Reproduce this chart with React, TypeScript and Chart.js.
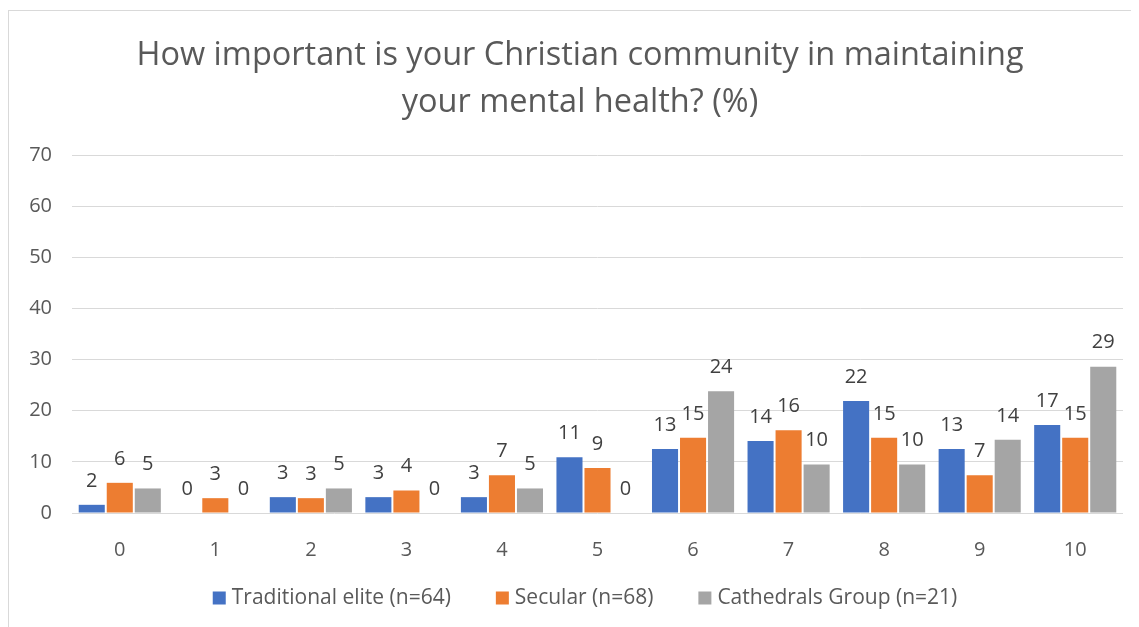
import React, { useEffect, useRef } from "react";
import { Chart, registerables } from "chart.js";

Chart.register(...registerables);

const categories = ["0", "1", "2", "3", "4", "5", "6", "7", "8", "9", "10"];
const traditionalElite = [1.6, 0, 3.1, 3.1, 3.1, 10.9, 12.5, 14.1, 21.9, 12.5, 17.2];
const secular = [5.9, 2.9, 2.9, 4.4, 7.4, 8.8, 14.7, 16.2, 14.7, 7.4, 14.7];
const cathedralsGroup = [4.8, 0, 4.8, 0, 4.8, 0, 23.8, 9.5, 9.5, 14.3, 28.6];
const seriesLabels = ["Traditional elite (n=64)", "Secular (n=68)", "Cathedrals Group (n=21)"];
const seriesColors = ["#4472C4", "#ED7D31", "#A5A5A5"];
const titleLines = ["How important is your Christian community in maintaining", "your mental health? (%)"];

const FONT = "'Open Sans', Lato, sans-serif";

const dataLabelPlugin = {
  id: "dataLabels",
  afterDatasetsDraw(chart: any) {
    const ctx = chart.ctx;
    ctx.save();
    ctx.font = `20px ${FONT}`;
    ctx.fillStyle = "#404040";
    ctx.textAlign = "center";
    ctx.textBaseline = "middle";
    chart.data.datasets.forEach((ds: any, di: number) => {
      const meta = chart.getDatasetMeta(di);
      meta.data.forEach((el: any, i: number) => {
        const v = ds.data[i];
        ctx.fillText(String(Math.round(v)), el.x, el.y - 24);
      });
    });
    ctx.restore();
  },
};

const titleAndLegendPlugin = {
  id: "titleAndLegend",
  afterDraw(chart: any) {
    const ctx = chart.ctx;
    ctx.save();
    // title
    ctx.font = `32.5px ${FONT}`;
    ctx.fillStyle = "#595959";
    ctx.textAlign = "center";
    ctx.textBaseline = "middle";
    const tx = 571;
    titleLines.forEach((line, i) => ctx.fillText(line, tx, 45 + i * 47));
    // legend
    ctx.font = `21px ${FONT}`;
    ctx.textAlign = "left";
    const box = 13;
    const gapText = 6;
    const gapItem = 45;
    const items = chart.data.datasets.map((ds: any) => ({
      label: ds.label,
      color: ds.backgroundColor,
      w: box + gapText + ctx.measureText(ds.label).width,
    }));
    const total = items.reduce((s: number, it: any) => s + it.w, 0) + gapItem * (items.length - 1);
    let x = 576 - total / 2;
    const y = 587;
    items.forEach((it: any) => {
      ctx.fillStyle = it.color;
      ctx.fillRect(x, y - box / 2, box, box);
      ctx.fillStyle = "#595959";
      ctx.fillText(it.label, x + box + gapText, y);
      x += it.w + gapItem;
    });
    ctx.restore();
  },
};

export default function App() {
  const ref = useRef<HTMLCanvasElement | null>(null);
  useEffect(() => {
    document.documentElement.style.overflow = "hidden";
    if (!ref.current) return;
    const chart = new Chart(ref.current, {
      type: "bar",
      data: {
        labels: categories,
        datasets: [
          { label: seriesLabels[0], data: traditionalElite, backgroundColor: seriesColors[0] },
          { label: seriesLabels[1], data: secular, backgroundColor: seriesColors[1] },
          { label: seriesLabels[2], data: cathedralsGroup, backgroundColor: seriesColors[2] },
        ],
      },
      options: {
        animation: false,
        responsive: false,
        maintainAspectRatio: false,
        layout: { padding: { top: 144, right: 8, bottom: 67, left: 0 } },
        datasets: { bar: { barPercentage: 0.93, categoryPercentage: 0.88 } },
        plugins: {
          legend: { display: false },
          tooltip: { enabled: false },
          title: { display: false },
        },
        scales: {
          x: {
            grid: { display: false },
            border: { display: false },
            ticks: { color: "#595959", font: { family: FONT, size: 20 }, padding: 17 },
            afterFit: (s: any) => { s.height = 50; },
          },
          y: {
            min: 0,
            max: 70,
            grid: { color: "#d9d9d9", lineWidth: 1, drawTicks: false },
            border: { display: false },
            ticks: { stepSize: 10, color: "#595959", font: { family: FONT, size: 20 }, padding: 20 },
            afterFit: (s: any) => { s.width = 63; },
          },
        },
      },
      plugins: [dataLabelPlugin, titleAndLegendPlugin],
    });
    return () => chart.destroy();
  }, []);
  return (
    <div
      style={{
        marginTop: 2,
        width: 1123,
        height: 620,
        borderTop: "1px solid #d9d9d9",
        borderLeft: "1px solid #d9d9d9",
        boxSizing: "border-box",
        background: "#fff",
      }}
    >
      <canvas ref={ref} width={1122} height={619} style={{ display: "block" }} />
    </div>
  );
}
